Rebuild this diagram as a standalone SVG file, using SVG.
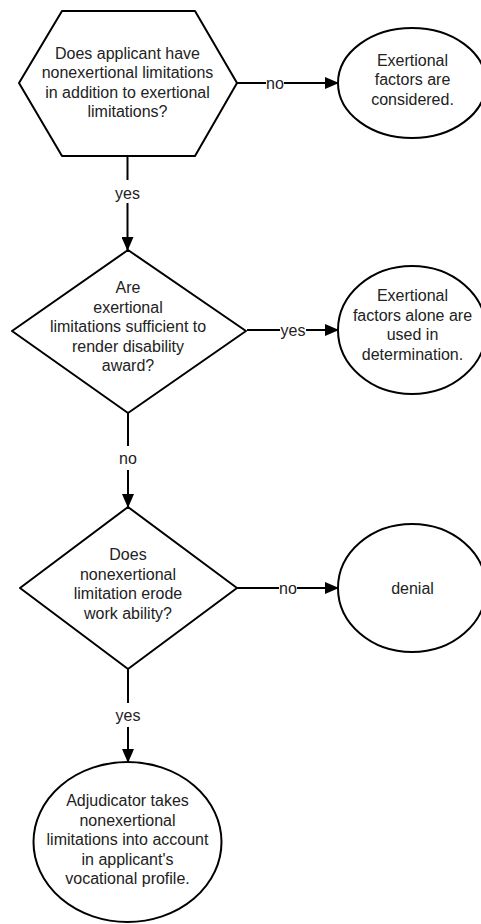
<svg xmlns="http://www.w3.org/2000/svg" width="481" height="924" viewBox="0 0 481 924">
<style>
.shape{fill:#fff;stroke:#000;stroke-width:2;stroke-linejoin:round}
.edge{fill:none;stroke:#000;stroke-width:2}
text{font-family:"Liberation Sans",Arial,sans-serif;font-size:16px;fill:#222;text-anchor:middle}
</style>
<defs>
<marker id="arr" markerWidth="14" markerHeight="12" refX="13" refY="6" orient="auto" markerUnits="userSpaceOnUse">
<path d="M0,0 L14,6 L0,12 Z" fill="#000"/>
</marker>
</defs>
<rect width="481" height="924" fill="#fff"/>
<g id="connectors">
<path class="edge" d="M236,83 H266 M284,83 H338" marker-end="url(#arr)"/>
<text x="275" y="88.5">no</text>
<path class="edge" d="M127.5,157 V180 M127.5,203 V250" marker-end="url(#arr)"/>
<text x="127.5" y="198.5">yes</text>
<path class="edge" d="M247,330 H280 M306,330 H338" marker-end="url(#arr)"/>
<text x="293" y="335.5">yes</text>
<path class="edge" d="M128,413 V446 M128,470 V507" marker-end="url(#arr)"/>
<text x="128" y="464">no</text>
<path class="edge" d="M237,588 H279 M297,588 H338" marker-end="url(#arr)"/>
<text x="288" y="593.5">no</text>
<path class="edge" d="M128,669 V703 M128,727 V762" marker-end="url(#arr)"/>
<text x="128" y="720.5">yes</text>
</g>
<g id="n1">
<path class="shape" d="M62,11 H195 L237,83 L195,156 H62 L19,83 Z"/>
<text x="127.5" y="58.5">Does applicant have</text>
<text x="127.5" y="78">nonexertional limitations</text>
<text x="127.5" y="97.5">in addition to exertional</text>
<text x="127.5" y="117">limitations?</text>
</g>
<g id="n2">
<ellipse class="shape" cx="412" cy="83" rx="74" ry="55"/>
<text x="412.5" y="65.5">Exertional</text>
<text x="412.5" y="85">factors are</text>
<text x="412.5" y="104.5">considered.</text>
</g>
<g id="n3">
<path class="shape" d="M128,250 L246,331 L128,413 L12,331 Z"/>
<text x="128" y="293">Are</text>
<text x="128" y="312.5">exertional</text>
<text x="128" y="332">limitations sufficient to</text>
<text x="128" y="351.5">render disability</text>
<text x="128" y="371">award?</text>
</g>
<g id="n4">
<ellipse class="shape" cx="412" cy="330" rx="74" ry="64"/>
<text x="412.5" y="301">Exertional</text>
<text x="412.5" y="320.5">factors alone are</text>
<text x="412.5" y="340">used in</text>
<text x="412.5" y="359.5">determination.</text>
</g>
<g id="n5">
<path class="shape" d="M128,507 L237,588 L128,669 L20,588 Z"/>
<text x="128" y="560">Does</text>
<text x="128" y="579.5">nonexertional</text>
<text x="128" y="599">limitation erode</text>
<text x="128" y="618.5">work ability?</text>
</g>
<g id="n6">
<ellipse class="shape" cx="412" cy="588" rx="74" ry="64"/>
<text x="412.5" y="593.5">denial</text>
</g>
<g id="n7">
<ellipse class="shape" cx="127.5" cy="842" rx="94" ry="80"/>
<text x="127.5" y="806">Adjudicator takes</text>
<text x="127.5" y="825.5">nonexertional</text>
<text x="127.5" y="845">limitations into account</text>
<text x="127.5" y="864.5">in applicant's</text>
<text x="127.5" y="884">vocational profile.</text>
</g>
</svg>
